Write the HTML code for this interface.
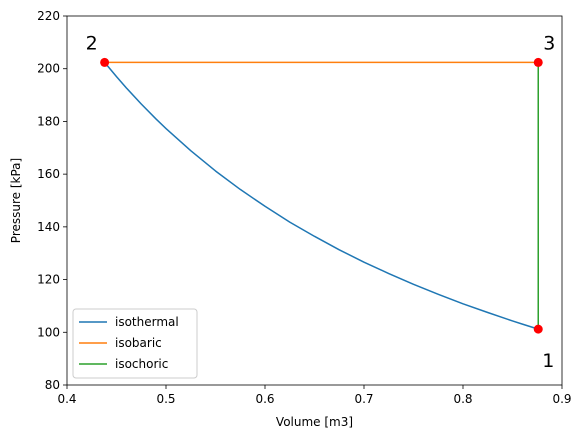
<!DOCTYPE html>
<html><head><meta charset="utf-8"><style>
body{margin:0;background:#fff;font-family:"Liberation Sans","DejaVu Sans",sans-serif;}
svg text{font-family:"DejaVu Sans","Liberation Sans",sans-serif;}
</style></head><body>
<svg id="chart" width="582" height="438" viewBox="0 0 582 438"></svg>
<script>
const isoV=[0.438,0.45,0.46,0.475,0.49,0.5,0.525,0.55,0.575,0.6,0.625,0.65,0.675,0.7,0.725,0.75,0.775,0.8,0.825,0.85,0.86,0.876];
const isoP=[202.4,197,192.7,186.6,180.9,177.3,168.9,161.2,154.2,147.8,141.8,136.4,131.3,126.6,122.3,118.2,114.4,110.8,107.5,104.3,103.1,101.2];
const barV=[0.438,0.876];
const barP=[202.4,202.4];
const choV=[0.876,0.876];
const choP=[101.2,202.4];
const ptV=[0.876,0.438,0.876];
const ptP=[101.2,202.4,202.4];
const ptLabels=["1","2","3"];
const xTicks=[0.4,0.5,0.6,0.7,0.8,0.9];
const xTickLabels=["0.4","0.5","0.6","0.7","0.8","0.9"];
const yTicks=[80,100,120,140,160,180,200,220];

const L=67,R=562,T=16,B=385;
const X=v=>L+(v-0.4)/0.5*(R-L);
const Y=p=>B-(p-80)/140*(B-T);
const svg=document.getElementById('chart');
const NS='http://www.w3.org/2000/svg';
function mk(tag,attrs,parent){const e=document.createElementNS(NS,tag);for(const k in attrs)e.setAttribute(k,attrs[k]);(parent||svg).appendChild(e);return e;}

xTicks.forEach((v,i)=>{
  const t=mk('line',{x1:X(v),x2:X(v),y1:B,y2:B+4,stroke:'#000','stroke-width':0.8});
  
  
  const tx=mk('text',{x:X(v),y:B+18,'text-anchor':'middle','font-size':12});
  tx.textContent=xTickLabels[i];
  
  
});
yTicks.forEach(p=>{
  const t=mk('line',{x1:L-4,x2:L,y1:Y(p),y2:Y(p),stroke:'#000','stroke-width':0.8});
  
  
  const tx=mk('text',{x:L-7,y:Y(p)+4,'text-anchor':'end','font-size':12});
  tx.textContent=String(p);
  
  
});
function line(vs,ps,color,name){
  const pl=mk('polyline',{points:vs.map((v,i)=>X(v)+','+Y(ps[i])).join(' '),fill:'none',stroke:color,'stroke-width':1.5,'stroke-linejoin':'round'});
  
  
}
line(isoV,isoP,'#1f77b4','isothermal-line');
line(barV,barP,'#ff7f0e','isobaric-line');
line(choV,choP,'#2ca02c','isochoric-line');
ptV.forEach((v,i)=>{
  const c=mk('circle',{cx:X(v),cy:Y(ptP[i]),r:4.5,fill:'#ff0000'});
  
  
});
const lblOff=[[4,38],[-19,-13],[5,-13]];
ptV.forEach((v,i)=>{
  const t=mk('text',{x:X(v)+lblOff[i][0],y:Y(ptP[i])+lblOff[i][1],'font-size':19});
  t.textContent=ptLabels[i];
  
  
});
const frame=mk('rect',{x:L,y:T,width:R-L,height:B-T,fill:'none',stroke:'#000','stroke-width':0.8});


const xt=mk('text',{x:(L+R)/2,y:426,'text-anchor':'middle','font-size':12});
xt.textContent='Volume [m3]';


const yt=mk('text',{x:20,y:(T+B)/2,'text-anchor':'middle','font-size':12,transform:'rotate(-90 20 '+((T+B)/2)+')'});
yt.textContent='Pressure [kPa]';


const lg=mk('g',{});


mk('rect',{x:73,y:309,width:124,height:69,rx:3,fill:'#fff',stroke:'#ccc','stroke-width':1},lg);
[['isothermal','#1f77b4'],['isobaric','#ff7f0e'],['isochoric','#2ca02c']].forEach((e,i)=>{
  const y=322+i*21;
  const ln=mk('line',{x1:79,x2:107,y1:y,y2:y,stroke:e[1],'stroke-width':1.5},lg);
  
  
  const t=mk('text',{x:115,y:y+4,'font-size':12},lg);
  t.textContent=e[0];
  
  
});
</script>
</body></html>
